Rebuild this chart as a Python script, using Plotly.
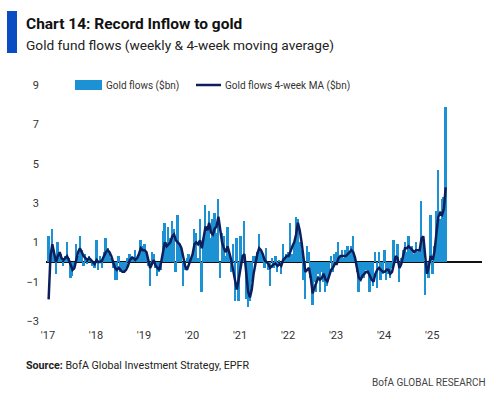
import pandas as pd
import plotly.graph_objects as go

# ---- data: biweekly gold fund flows ($bn) and 4-week MA ----
years = [2017, 2018, 2019, 2020, 2021, 2022, 2023, 2024, 2025]

flows_2017 = [1.3, 0.5, 1.7, 0.6, -0.6, 1.0, 0.5, 0.4, -0.2, 0.3, 1.0, 0.2, -0.8, -0.7, -0.4, 0.9, 0.3, 1.3, 0.6, -0.2, 0.4, -0.1, 0.3, 0.1, -0.2, -0.3]
flows_2018 = [1.1, -0.4, 0.3, -0.3, 0.5, 1.2, 0.7, 0.5, 0.2, -0.3, -0.9, -0.9, 0.3, -0.5, -0.4, -0.5, -0.3, 0.2, 0.4, 0.3, 0.1, 0.6, 0.2, 0.4, 1.1, 0.8]
flows_2019 = [0.9, 0.3, -0.2, -1.2, 0.5, 0.4, -0.3, -0.7, -0.5, -0.4, 1.6, 2.0, 1.0, 1.8, 1.2, 2.1, 1.7, -0.5, 2.4, 0.8, 0.6, -1.2, -0.4, 0.2, 0.4, 0.1]
flows_2020 = [0.3, 1.7, 1.5, 0.2, 2.2, -1.5, 1.2, 2.9, 1.6, 2.6, 1.2, 2.2, 2.5, 1.5, 3.2, -0.8, 1.5, 1.3, 0.3, 1.8, 0.5, -0.5, 0.9, -2.0, 1.2, -2.0]
flows_2021 = [1.3, 0.3, 2.1, -1.9, -2.3, -2.0, -1.0, 0.3, 0.3, 0.5, 1.4, 0.5, 0.3, -0.3, 0.7, -0.4, -1.2, 0.2, -0.3, 0.3, -0.5, 0.1, -0.6, 0.9, 0.2, 0.4]
flows_2022 = [0.5, 2.0, 0.4, 1.0, 2.3, 2.2, 1.0, 0.6, -0.9, -1.9, 0.8, 0.5, -0.8, -2.2, -1.0, -1.5, -0.6, -1.5, -0.5, -1.0, -1.5, -1.2, -0.8, 0.3, -0.5, 0.4]
flows_2023 = [0.5, 1.0, 0.3, 0.6, 0.2, 0.6, 0.8, 0.5, 0.8, 1.3, 0.3, -0.5, -1.5, -0.8, -0.7, -0.8, -0.4, -0.6, -1.5, -0.9, -1.2, 0.5, -1.3, 0.5, -0.9, -0.6]
flows_2024 = [0.6, -0.9, -0.6, -0.8, -0.3, 1.1, 0.3, 0.9, -1.0, 0.2, 0.6, 1.0, 0.5, 1.3, 0.6, 0.8, 0.4, 1.0, 0.5, 0.6, 3.1, 1.3, -1.7, -0.5, -0.8, 2.4]
flows_2025 = [-0.6, 0.8, 2.6, 4.7, 2.2, 3.2, 3.3, 7.9]

ma_2017 = [-1.9, 0.3, 0.9, 0.5, 0.0, 0.3, 0.5, 0.2, 0.1, 0.2, 0.3, 0.1, -0.2, -0.4, -0.3, 0.2, 0.5, 0.7, 0.5, 0.3, 0.2, 0.1, 0.2, 0.1, 0.0, -0.1]
ma_2018 = [0.1, 0.0, 0.0, 0.1, 0.3, 0.5, 0.6, 0.5, 0.3, 0.0, -0.3, -0.4, -0.3, -0.4, -0.5, -0.5, -0.4, -0.2, 0.1, 0.2, 0.2, 0.1, 0.2, 0.4, 0.7, 0.6]
ma_2019 = [0.6, 0.5, 0.1, -0.3, -0.1, 0.1, -0.2, -0.3, -0.4, 0.0, 0.6, 1.0, 0.8, 0.9, 1.0, 1.3, 1.4, 1.1, 1.0, 0.9, 0.7, 0.2, -0.2, -0.4, -0.1, 0.2]
ma_2020 = [0.4, 0.9, 1.0, 0.9, 1.1, 0.7, 1.2, 1.8, 1.6, 2.0, 1.5, 1.4, 1.7, 1.8, 2.3, 1.6, 1.0, 0.7, 0.5, 0.8, 0.5, 0.1, -0.4, -1.0, -1.4, -0.9]
ma_2021 = [-0.3, 0.3, 0.4, -0.4, -1.5, -1.8, -1.4, -0.6, 0.0, 0.4, 0.7, 0.6, 0.4, 0.1, 0.0, -0.1, -0.3, -0.2, -0.1, -0.1, -0.2, -0.1, -0.2, 0.1, 0.2, 0.3]
ma_2022 = [0.3, 0.6, 0.8, 1.0, 1.4, 2.0, 1.6, 1.0, 0.3, -0.5, -0.4, -0.3, -0.8, -1.6, -1.3, -1.0, -0.8, -0.9, -0.8, -0.6, -0.9, -1.0, -0.7, -0.4, -0.3, -0.1]
ma_2023 = [-0.1, 0.2, 0.3, 0.3, 0.3, 0.3, 0.4, 0.5, 0.6, 0.5, 0.2, -0.3, -0.8, -0.9, -0.7, -0.6, -0.5, -0.5, -0.7, -0.9, -1.0, -0.6, -0.4, -0.3, -0.4, -0.5]
ma_2024 = [-0.5, -0.4, -0.4, -0.6, -0.5, 0.0, 0.3, 0.2, -0.3, -0.1, 0.3, 0.7, 0.7, 0.8, 0.7, 0.6, 0.5, 0.6, 0.6, 0.6, 1.2, 1.3, 0.3, -0.6, -0.2, 0.3]
ma_2025 = [0.1, 0.6, 1.5, 2.3, 2.5, 2.4, 2.7, 3.8]

y_tickvals = [-3, -1, 1, 3, 5, 7, 9]
x_ticklabels = ["'17", "'18", "'19", "'20", "'21", "'22", "'23", "'24", "'25"]

flows_by_year = [flows_2017, flows_2018, flows_2019, flows_2020, flows_2021,
                 flows_2022, flows_2023, flows_2024, flows_2025]
ma_by_year = [ma_2017, ma_2018, ma_2019, ma_2020, ma_2021,
              ma_2022, ma_2023, ma_2024, ma_2025]

dates, flows, ma = [], [], []
for yr, fl, mv in zip(years, flows_by_year, ma_by_year):
    d = pd.date_range(f"{yr}-01-06", periods=len(fl), freq="14D")
    dates.extend(d)
    flows.extend(fl)
    ma.extend(mv)

# ---- layout geometry (pixels) ----
W, H = 494, 393
L, R, T, B = 46, 12, 85, 72
pw, ph = W - L - R, H - T - B

def px(xp):
    return (xp - L) / pw

def py(yp):
    return (H - B - yp) / ph

FONT = "Roboto, Arial, sans-serif"
BAR_COLOR = "#1c91d3"
LINE_COLOR = "#0c1f5c"

fig = go.Figure()
fig.add_trace(go.Bar(
    x=dates, y=flows, name="Gold flows ($bn)",
    marker=dict(color=BAR_COLOR, line=dict(width=0)),
    width=14 * 86400000, showlegend=False,
))
fig.add_trace(go.Scatter(
    x=dates, y=ma, name="Gold flows 4-week MA ($bn)", mode="lines",
    line=dict(color=LINE_COLOR, width=2.5), showlegend=False,
))

fig.update_layout(
    width=W, height=H,
    margin=dict(l=L, r=R, t=T, b=B, autoexpand=False),
    paper_bgcolor="white", plot_bgcolor="white",
    bargap=0,
    font=dict(family=FONT, size=11, color="#333333"),
    xaxis=dict(
        type="date",
        range=["2016-12-17", "2026-01-15"],
        tickvals=[f"{y}-01-01" for y in years],
        ticktext=x_ticklabels,
        showgrid=False, showline=False, zeroline=False, ticks="",
        tickfont=dict(size=11, color="#333333"),
        ticklabelstandoff=6,
    ),
    yaxis=dict(
        range=[-3, 9],
        tickvals=y_tickvals,
        showgrid=False, showline=False, ticks="",
        zeroline=True, zerolinecolor="#111111", zerolinewidth=1.6,
        tickfont=dict(size=11, color="#333333"),
        ticklabelstandoff=6,
    ),
)

# manual legend
fig.add_shape(type="rect", xref="paper", yref="paper",
              x0=px(75), x1=px(102), y0=py(90), y1=py(80),
              fillcolor=BAR_COLOR, line=dict(width=0))
fig.add_annotation(xref="paper", yref="paper", x=px(104), y=py(85),
                   xanchor="left", yanchor="middle", showarrow=False,
                   text="Gold flows ($bn)",
                   font=dict(family=FONT, size=10, color="#333333"))
fig.add_shape(type="line", xref="paper", yref="paper",
              x0=px(196), x1=px(221), y0=py(85), y1=py(85),
              line=dict(color=LINE_COLOR, width=2.5))
fig.add_annotation(xref="paper", yref="paper", x=px(223), y=py(85),
                   xanchor="left", yanchor="middle", showarrow=False,
                   text="Gold flows 4-week MA ($bn)",
                   font=dict(family=FONT, size=10, color="#333333"))

# title block
fig.add_shape(type="rect", xref="paper", yref="paper",
              x0=px(7), x1=px(17), y0=py(53), y1=py(11),
              fillcolor="#0a4dc2", line=dict(width=0), layer="above")
fig.add_annotation(xref="paper", yref="paper", x=px(24), y=py(24),
                   xanchor="left", yanchor="middle", showarrow=False,
                   text="<b>Chart 14: Record Inflow to gold</b>",
                   font=dict(family=FONT, size=15.5, color="#111111"))
fig.add_annotation(xref="paper", yref="paper", x=px(24), y=py(45),
                   xanchor="left", yanchor="middle", showarrow=False,
                   text="Gold fund flows (weekly & 4-week moving average)",
                   font=dict(family=FONT, size=13.7, color="#222222"))
fig.add_annotation(xref="paper", yref="paper", x=px(24), y=py(365),
                   xanchor="left", yanchor="middle", showarrow=False,
                   text="<b>Source:</b> BofA Global Investment Strategy, EPFR",
                   font=dict(family=FONT, size=10.7, color="#222222"))
fig.add_annotation(xref="paper", yref="paper", x=px(488), y=py(382),
                   xanchor="right", yanchor="middle", showarrow=False,
                   text="BofA GLOBAL RESEARCH",
                   font=dict(family=FONT, size=10, color="#444444"))

fig.write_html("out.html", config={"displayModeBar": False},
               post_script="document.body.style.margin='0';")
